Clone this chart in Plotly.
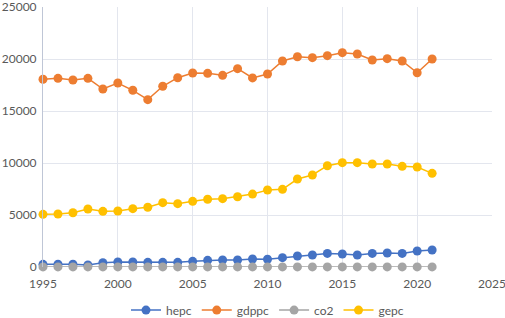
import plotly.graph_objects as go

years = list(range(1995, 2022))
hepc = [255, 270, 270, 190, 410, 480, 480, 450, 450, 450, 545, 640, 670, 670, 770,
        740, 900, 1060, 1150, 1310, 1250, 1150, 1310, 1350, 1310, 1540, 1630]
gdppc = [18050, 18140, 17980, 18140, 17115, 17690, 16990, 16090, 17375, 18200, 18650, 18620, 18430, 19070, 18180,
         18560, 19810, 20220, 20130, 20320, 20610, 20480, 19900, 20030, 19810, 18680, 20000]
co2 = [8, 8, 8, 8, 8, 8, 8, 8, 8, 8, 9, 9, 9, 9, 9, 9, 9, 9, 9, 9, 9, 9, 9, 9, 9, 8, 9]
gepc = [5065, 5100, 5220, 5580, 5355, 5385, 5610, 5740, 6185, 6090, 6315, 6510, 6570, 6760, 7010,
        7400, 7470, 8460, 8850, 9740, 10030, 10030, 9900, 9900, 9680, 9615, 9005]

series = [("hepc", hepc, "#4472C4"), ("gdppc", gdppc, "#ED7D31"),
          ("co2", co2, "#A5A5A5"), ("gepc", gepc, "#FFC000")]

fig = go.Figure()
for name, vals, col in series:
    fig.add_trace(go.Scatter(x=years, y=vals, name=name, mode="lines+markers",
                             line=dict(color=col, width=1.5),
                             marker=dict(color=col, size=9), cliponaxis=False))

fig.update_layout(
    width=505, height=318,
    margin=dict(l=43, r=13, t=7, b=51, autoexpand=False),
    paper_bgcolor="white", plot_bgcolor="white",
    font=dict(family="Lato", size=12, color="#595959"),
    showlegend=True,
    legend=dict(orientation="h", x=0.5, xanchor="center", y=-0.11, yanchor="top",
                font=dict(size=12, color="#595959"), itemwidth=30),
    xaxis=dict(range=[1995, 2025], dtick=5, tick0=1995, showgrid=True, gridcolor="#E3E6EE",
               zeroline=False, showline=False, ticks="outside", ticklen=6, tickcolor="rgba(0,0,0,0)",
               tickfont=dict(size=12), automargin=False, tickformat="d", ticklabeloverflow="allow"),
    yaxis=dict(range=[0, 25000], dtick=5000, showgrid=True, gridcolor="#E3E6EE",
               zeroline=False, showline=True, linecolor="#BFC6D6", ticks="outside", ticklen=3,
               tickcolor="rgba(0,0,0,0)", tickformat="d",
               tickfont=dict(size=12), automargin=False, ticklabeloverflow="allow"),
)
fig.write_html("out.html", config={"displayModeBar": False},
               post_script="document.body.style.margin='0';document.body.style.overflow='hidden';")
